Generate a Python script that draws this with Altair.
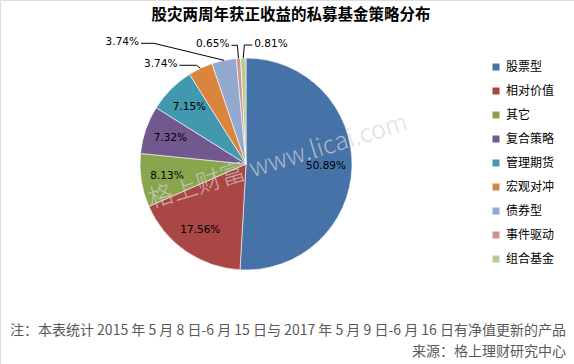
import altair as alt
import pandas as pd

# ---- data ----
categories = ["股票型", "相对价值", "其它", "复合策略", "管理期货", "宏观对冲", "债券型", "事件驱动", "组合基金"]
values = [50.89, 17.56, 8.13, 7.32, 7.15, 3.74, 3.74, 0.65, 0.81]
colors = ["#4572A7", "#AA4643", "#89A54E", "#71588F", "#4198AF", "#DB843D", "#93A9CF", "#D19392", "#B9CD96"]

title_text = "股灾两周年获正收益的私募基金策略分布"
note_lines = [
    "注：本表统计 2015 年 5 月 8 日-6 月 15 日与 2017 年 5 月 9 日-6 月 16 日有净值更新的产品",
    "来源：格上理财研究中心",
]
watermark = "格上财富   www.licai.com"

# ---- label layout (style, not data) ----
outside = [False, False, False, False, False, True, True, True, True]
elbow_dx = [0, 0, 0, 0, 0, -4, -70, -1, 1]
elbow_dy = [0, 0, 0, 0, 0, -3, -17, -13, -13]
run_dx = [0, 0, 0, 0, 0, -17, -13, -6, 8]

CX, CY, R = 246, 164, 106
W, H = 574, 364

df = pd.DataFrame({
    "cat": categories,
    "value": values,
    "order": list(range(len(categories))),
    "outside": outside,
    "edx": elbow_dx,
    "edy": elbow_dy,
    "rdx": run_dx,
})
df["label"] = [f"{v:.2f}%" for v in values]
df["inlabel"] = [("" if o else l) for o, l in zip(outside, df["label"])]

color_scale = alt.Scale(domain=categories, range=colors)

base = alt.Chart(df)

arcs = base.mark_arc(outerRadius=R, stroke="#ffffff", strokeWidth=0.6).encode(
    theta=alt.Theta("value:Q", stack=True),
    order=alt.Order("order:Q"),
    color=alt.Color(
        "cat:N",
        scale=color_scale,
        sort=categories,
        legend=alt.Legend(
            title=None,
            orient="none",
            legendX=490,
            legendY=61,
            symbolType="square",
            symbolSize=49,
            symbolStrokeWidth=0,
            labelFont="Noto Sans CJK SC",
            labelFontSize=12,
            labelColor="#000000",
            labelOffset=4,
            rowPadding=12,
            padding=0,
        ),
    ),
    x=alt.value(CX),
    y=alt.value(CY),
)

inner_text = base.mark_text(
    radius=80, font="DejaVu Sans", fontSize=10.5, color="#000000"
).encode(
    theta=alt.Theta("value:Q", stack=True),
    order=alt.Order("order:Q"),
    text="inlabel:N",
    x=alt.value(CX),
    y=alt.value(CY),
)

geo = (
    base.transform_window(cum="sum(value)", sort=[{"field": "order"}], frame=[None, 0])
    .transform_joinaggregate(total="sum(value)")
    .transform_calculate(mid="(datum.cum - datum.value/2)/datum.total*2*PI")
    .transform_calculate(
        ex=f"{CX} + {R}*sin(datum.mid)",
        ey=f"{CY} - {R}*cos(datum.mid)",
    )
    .transform_calculate(bx="datum.ex + datum.edx", by="datum.ey + datum.edy")
    .transform_calculate(
        lx="datum.bx + datum.rdx",
        tx="datum.bx + datum.rdx + (datum.rdx < 0 ? -2 : 2)",
        ty="datum.by - 1",
    )
    .transform_filter("datum.outside")
)

lead1 = geo.mark_rule(color="#000000", strokeWidth=1).encode(
    x=alt.X("ex:Q", scale=None), y=alt.Y("ey:Q", scale=None),
    x2="bx:Q", y2="by:Q",
)
lead2 = geo.mark_rule(color="#000000", strokeWidth=1).encode(
    x=alt.X("bx:Q", scale=None), y=alt.Y("by:Q", scale=None),
    x2="lx:Q", y2="by:Q",
)
out_left = geo.transform_filter("datum.rdx < 0").mark_text(
    align="right", baseline="middle", font="DejaVu Sans", fontSize=10.5, color="#000000"
).encode(x=alt.X("tx:Q", scale=None), y=alt.Y("ty:Q", scale=None), text="label:N")
out_right = geo.transform_filter("datum.rdx > 0").mark_text(
    align="left", baseline="middle", font="DejaVu Sans", fontSize=10.5, color="#000000"
).encode(x=alt.X("tx:Q", scale=None), y=alt.Y("ty:Q", scale=None), text="label:N")

wm = alt.Chart(pd.DataFrame({"t": [watermark]})).mark_text(
    font="Noto Sans CJK SC", fontSize=25, fontWeight=300, color="#d4d4d4", opacity=0.7, angle=343,
    align="center", baseline="middle",
).encode(text="t:N", x=alt.value(278), y=alt.value(161))

title = alt.Chart(pd.DataFrame({"t": [title_text]})).mark_text(
    font="Noto Sans CJK SC", fontSize=15.5, fontWeight="bold", color="#000000",
    align="center", baseline="middle",
).encode(text="t:N", x=alt.value(291), y=alt.value(15))

notes = alt.Chart(pd.DataFrame({"t": note_lines, "i": [0, 1]})).mark_text(
    font="Noto Sans CJK SC", fontSize=14, color="#595959", align="right", baseline="middle",
).encode(
    text="t:N",
    x=alt.value(566),
    y=alt.Y("i:Q", scale=alt.Scale(domain=[0, 1], range=[331, 352]), axis=None),
)

chart = alt.layer(arcs, inner_text, lead1, lead2, out_left, out_right, wm, title, notes).properties(
    width=W, height=H, padding=0, autosize=alt.AutoSizeParams(type="none"),
).configure_view(stroke=None).configure(background="#ffffff")

chart.save("out.html", embed_options={"renderer": "svg", "actions": False})
